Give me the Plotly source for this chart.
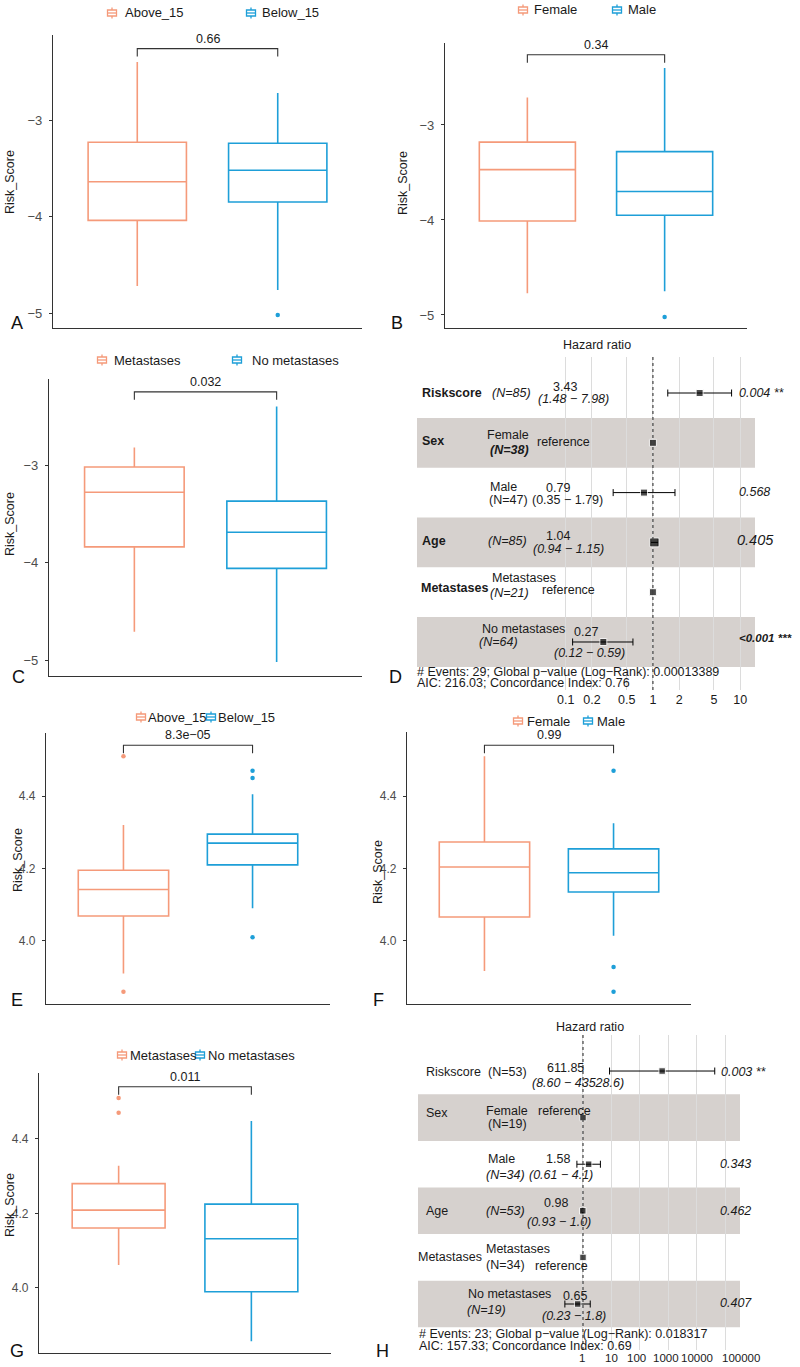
import math
import plotly.graph_objects as go

W, H = 800, 1367
FONT = "Liberation Sans, Arial, Helvetica, sans-serif"
ORANGE = "#F59A7A"
BLUE = "#1E9FD8"
INK = "#1A1A1A"
AXIS = "#333333"
BAND = "#D6D1CE"
GRID = "#DCDCDC"

# ---------------- data: box panels ----------------
A_groups = ["Above_15", "Below_15"]
A_q1 = [-4.04, -3.85]
A_median = [-3.64, -3.52]
A_q3 = [-3.23, -3.24]
A_lower = [-4.72, -4.76]
A_upper = [-2.40, -2.72]
A_outliers = [[], [-5.02]]
A_p = "0.66"
A_bracket = -2.26

B_groups = ["Female", "Male"]
B_q1 = [-4.01, -3.95]
B_median = [-3.47, -3.70]
B_q3 = [-3.18, -3.28]
B_lower = [-4.77, -4.75]
B_upper = [-2.71, -2.40]
B_outliers = [[], [-5.02]]
B_p = "0.34"
B_bracket = -2.26

C_groups = ["Metastases", "No metastases"]
C_q1 = [-3.84, -4.06]
C_median = [-3.28, -3.69]
C_q3 = [-3.02, -3.37]
C_lower = [-4.71, -5.02]
C_upper = [-2.82, -2.40]
C_outliers = [[], []]
C_p = "0.032"
C_bracket = -2.25

E_groups = ["Above_15", "Below_15"]
E_q1 = [4.069, 4.210]
E_median = [4.142, 4.270]
E_q3 = [4.195, 4.295]
E_lower = [3.910, 4.090]
E_upper = [4.320, 4.405]
E_outliers = [[4.51, 3.86], [4.47, 4.45, 4.01]]
E_p = "8.3e\u221205"
E_bracket = 4.54

F_groups = ["Female", "Male"]
F_q1 = [4.066, 4.135]
F_median = [4.204, 4.188]
F_q3 = [4.273, 4.254]
F_lower = [3.917, 4.014]
F_upper = [4.510, 4.325]
F_outliers = [[], [4.47, 3.928, 3.86]]
F_p = "0.99"
F_bracket = 4.54

G_groups = ["Metastases", "No metastases"]
G_q1 = [4.161, 3.990]
G_median = [4.209, 4.132]
G_q3 = [4.280, 4.225]
G_lower = [4.062, 3.857]
G_upper = [4.328, 4.448]
G_outliers = [[4.51, 4.47], []]
G_p = "0.011"
G_bracket = 4.54

# ---------------- data: forest panels ----------------
D_var = ["Riskscore", "Sex", "", "Age", "Metastases", ""]
D_level = ["", "Female", "Male", "", "Metastases", "No metastases"]
D_n = ["(N=85)", "(N=38)", "(N=47)", "(N=85)", "(N=21)", "(N=64)"]
D_hr = [3.43, 1.0, 0.79, 1.04, 1.0, 0.27]
D_lo = [1.48, None, 0.35, 0.94, None, 0.12]
D_hi = [7.98, None, 1.79, 1.15, None, 0.59]
D_est = ["3.43", "reference", "0.79", "1.04", "reference", "0.27"]
D_ci = ["(1.48 \u2212 7.98)", "", "(0.35 \u2212 1.79)", "(0.94 \u2212 1.15)", "", "(0.12 \u2212 0.59)"]
D_pval = ["0.004 **", "", "0.568", "0.405", "", "&lt;0.001 ***"]
D_footer = ["# Events: 29; Global p\u2212value (Log\u2212Rank): 0.00013389",
            "AIC: 216.03; Concordance Index: 0.76"]
D_ticks = [0.1, 0.2, 0.5, 1, 2, 5, 10]
D_ticktext = ["0.1", "0.2", "0.5", "1", "2", "5", "10"]

H_var = ["Riskscore", "Sex", "", "Age", "Metastases", ""]
H_level = ["", "Female", "Male", "", "Metastases", "No metastases"]
H_n = ["(N=53)", "(N=19)", "(N=34)", "(N=53)", "(N=34)", "(N=19)"]
H_hr = [611.85, 1.0, 1.58, 0.98, 1.0, 0.65]
H_lo = [8.60, None, 0.61, 0.93, None, 0.23]
H_hi = [43528.6, None, 4.1, 1.0, None, 1.8]
H_est = ["611.85", "reference", "1.58", "0.98", "reference", "0.65"]
H_ci = ["(8.60 \u2212 43528.6)", "", "(0.61 \u2212 4.1)", "(0.93 \u2212 1.0)", "", "(0.23 \u2212 1.8)"]
H_pval = ["0.003 **", "", "0.343", "0.462", "", "0.407"]
H_footer = ["# Events: 23; Global p\u2212value (Log\u2212Rank): 0.018317",
            "AIC: 157.33; Concordance Index: 0.69"]
H_ticks = [1, 10, 100, 1000, 10000, 100000]
H_ticktext = ["1", "10", "100", "1000", "10000", "100000"]


# ---------------- helpers ----------------
def fx(p):
    return p / W


def fy(p):
    return 1 - p / H


fig = go.Figure()
annotations = []
shapes = []
layout_axes = {}


def txt(s, x, y, size=12.5, anchor="center", color=INK, angle=0):
    annotations.append(dict(text=s, x=fx(x), y=fy(y), xref="paper", yref="paper",
                            xanchor=anchor, yanchor="middle", showarrow=False,
                            textangle=angle,
                            font=dict(family=FONT, size=size, color=color)))


def sty(s, st):
    if "b" in st:
        s = "<b>" + s + "</b>"
    if "i" in st:
        s = "<i>" + s + "</i>"
    return s


def axname(n):
    return ("x" if n == 1 else "x%d" % n), ("y" if n == 1 else "y%d" % n)


# ---------------- box panels ----------------
box_panels = [
    dict(n=1, g=A_groups, q1=A_q1, med=A_median, q3=A_q3, lo=A_lower, hi=A_upper, out=A_outliers,
         p=A_p, br=A_bracket, xd=(53, 362), yd=(35, 328), yr=(-5.155, -2.119), tv=[-5, -4, -3],
         fmt="d", tfs=13, title=(10, 182), leg_y=13, leg=[(112, 123), (251, 260)],
         letter=("A", 17, 323)),
    dict(n=2, g=B_groups, q1=B_q1, med=B_median, q3=B_q3, lo=B_lower, hi=B_upper, out=B_outliers,
         p=B_p, br=B_bracket, xd=(445, 747), yd=(43, 328), yr=(-5.137, -2.137), tv=[-5, -4, -3],
         fmt="d", tfs=13, title=(403, 183), leg_y=10, leg=[(523, 532), (617, 626)],
         letter=("B", 397, 323)),
    dict(n=3, g=C_groups, q1=C_q1, med=C_median, q3=C_q3, lo=C_lower, hi=C_upper, out=C_outliers,
         p=C_p, br=C_bracket, xd=(49, 362), yd=(379, 676), yr=(-5.164, -2.118), tv=[-5, -4, -3],
         fmt="d", tfs=13, title=(10, 524), leg_y=360, leg=[(102, 112), (237, 250)],
         letter=("C", 18, 677)),
    dict(n=5, g=E_groups, q1=E_q1, med=E_median, q3=E_q3, lo=E_lower, hi=E_upper, out=E_outliers,
         p=E_p, br=E_bracket, xd=(46, 330), yd=(733, 1004), yr=(3.826, 4.574), tv=[4.0, 4.2, 4.4],
         fmt=".1f", tfs=12, title=(18, 860), leg_y=717, leg=[(141, 146), (211, 216)],
         letter=("E", 17, 1000)),
    dict(n=6, g=F_groups, q1=F_q1, med=F_median, q3=F_q3, lo=F_lower, hi=F_upper, out=F_outliers,
         p=F_p, br=F_bracket, xd=(407, 691), yd=(732, 1004), yr=(3.826, 4.5766), tv=[4.0, 4.2, 4.4],
         fmt=".1f", tfs=12, title=(378, 872), leg_y=721, leg=[(518, 525), (588, 595)],
         letter=("F", 378, 1000)),
    dict(n=7, g=G_groups, q1=G_q1, med=G_median, q3=G_q3, lo=G_lower, hi=G_upper, out=G_outliers,
         p=G_p, br=G_bracket, xd=(39, 331), yd=(1073, 1353), yr=(3.8255, 4.577), tv=[4.0, 4.2, 4.4],
         fmt=".1f", tfs=12, title=(10, 1205), leg_y=1055, leg=[(122, 128), (200, 206)],
         letter=("G", 17, 1351)),
]

COLORS = [ORANGE, BLUE]

for P in box_panels:
    xa, ya = axname(P["n"])
    for i in range(2):
        c = COLORS[i]
        fig.add_trace(go.Box(
            x=[i + 1], q1=[P["q1"][i]], median=[P["med"][i]], q3=[P["q3"][i]],
            lowerfence=[P["lo"][i]], upperfence=[P["hi"][i]], width=0.7, whiskerwidth=0,
            line=dict(color=c, width=1.6), fillcolor="rgba(255,255,255,0)",
            boxpoints=False, name=P["g"][i], showlegend=False, hoverinfo="skip",
            xaxis=xa, yaxis=ya))
        if P["out"][i]:
            fig.add_trace(go.Scatter(
                x=[i + 1] * len(P["out"][i]), y=P["out"][i], mode="markers",
                marker=dict(size=4.5, color=c), showlegend=False, hoverinfo="skip",
                xaxis=xa, yaxis=ya))
    # bracket for comparison
    span = (P["yr"][1] - P["yr"][0]) / (P["yd"][1] - P["yd"][0])
    tip = 8 * span
    fig.add_trace(go.Scatter(
        x=[1, 1, 2, 2], y=[P["br"] - tip, P["br"], P["br"], P["br"] - tip], mode="lines",
        line=dict(color=AXIS, width=1.1), showlegend=False, hoverinfo="skip",
        xaxis=xa, yaxis=ya))
    annotations.append(dict(text=P["p"], x=1.5, y=P["br"], xref=xa, yref=ya, yshift=10,
                            showarrow=False, yanchor="middle",
                            font=dict(family=FONT, size=12.5, color=INK)))
    k = "" if P["n"] == 1 else str(P["n"])
    layout_axes["xaxis" + k] = dict(
        domain=[fx(P["xd"][0]), fx(P["xd"][1])], range=[0.4, 2.6], anchor=ya,
        showline=True, linecolor=AXIS, linewidth=1.1, showticklabels=False, ticks="",
        showgrid=False, zeroline=False, fixedrange=True)
    layout_axes["yaxis" + k] = dict(
        domain=[fy(P["yd"][1]), fy(P["yd"][0])], range=list(P["yr"]), anchor=xa,
        tickvals=P["tv"], tickformat=P["fmt"], ticks="outside", ticklen=3, tickwidth=1,
        tickcolor=AXIS, showline=True, linecolor=AXIS, linewidth=1.1, showgrid=False,
        zeroline=False, ticklabelstandoff=4,
        tickfont=dict(family=FONT, size=P["tfs"], color="#4D4D4D"), fixedrange=True)
    # axis title
    txt("Risk_Score", P["title"][0], P["title"][1], size=12.5, angle=-90)
    # panel letter
    txt(P["letter"][0], P["letter"][1], P["letter"][2], size=18, color="#111111")
    # legend (ggplot style keys)
    cy = P["leg_y"]
    for i, (ix, tx) in enumerate(P["leg"]):
        c = COLORS[i]
        shapes.append(dict(type="rect", xref="paper", yref="paper",
                           x0=fx(ix - 4.5), x1=fx(ix + 4.5), y0=fy(cy + 3), y1=fy(cy - 3),
                           line=dict(color=c, width=1.3), fillcolor="white"))
        shapes.append(dict(type="line", xref="paper", yref="paper",
                           x0=fx(ix - 4.5), x1=fx(ix + 4.5), y0=fy(cy), y1=fy(cy),
                           line=dict(color=c, width=1.3)))
        shapes.append(dict(type="line", xref="paper", yref="paper",
                           x0=fx(ix), x1=fx(ix), y0=fy(cy - 3), y1=fy(cy - 5.5),
                           line=dict(color=c, width=1.3)))
        shapes.append(dict(type="line", xref="paper", yref="paper",
                           x0=fx(ix), x1=fx(ix), y0=fy(cy + 3), y1=fy(cy + 5.5),
                           line=dict(color=c, width=1.3)))
        txt(P["g"][i], tx, cy, size=13, anchor="left")

# ---------------- forest panels ----------------
D_pos = dict(
    var=[(420, 393), (420, 441), None, (420, 541), (419, 588), None],
    level=[None, (508, 435), (503, 487), None, (524, 578), (523, 629)],
    n=[(511, 393), (509, 450), (508, 500), (507, 541), (510, 593), (498, 642)],
    est=[(565, 387), (563, 442), (558, 488), (558, 536), (568, 590), (586, 632)],
    ci=[(573, 399), None, (567, 500), (568, 549), None, (589, 653)],
    p=[(737, 393), None, (737, 492), (735, 540), None, (737, 638)],
)
D_sty = dict(var=["b"] * 6, level=[""] * 6, n=["i", "bi", "", "i", "i", "i"],
             est=[""] * 6, ci=["i", "", "", "i", "", "i"], p=["i", "", "i", "i", "", "bi"])
D_psize = [12.5, 12.5, 12.5, 14.5, 12.5, 11.5]
D_msize = [7, 7, 7, 9, 7, 7]

H_pos = dict(
    var=[(424, 1072), (424, 1113), None, (424, 1211), (416, 1257), None],
    level=[None, (507, 1111), (501, 1159), None, (518, 1249), (509, 1294)],
    n=[(507, 1072), (507, 1124), (505, 1175), (505, 1211), (505, 1265), (486, 1310)],
    est=[(565, 1068), (564, 1111), (558, 1159), (556, 1203), (561, 1266), (575, 1296)],
    ci=[(578, 1083), None, (561, 1175), (559, 1222), None, (574, 1316)],
    p=[(719, 1072), None, (718, 1164), (718, 1211), None, (718, 1303)],
)
H_sty = dict(var=[""] * 6, level=[""] * 6, n=["", "", "i", "i", "", "i"],
             est=[""] * 6, ci=["i", "", "i", "i", "", "i"], p=["i", "", "i", "i", "", "i"])
H_psize = [12.5] * 6
H_msize = [6.5] * 6
H_tickshift = [-1, 0, -3, -2, 0, 16]

forest_panels = [
    dict(n=4, var=D_var, level=D_level, N=D_n, hr=D_hr, lo=D_lo, hi=D_hi, est=D_est, ci=D_ci,
         pv=D_pval, footer=D_footer, ticks=D_ticks, ticktext=D_ticktext, pos=D_pos, st=D_sty,
         psize=D_psize, msize=D_msize, xd=(415, 797), yd=(357, 690), xr=(-2.728, 1.652),
         yr=(5.964, -0.723), band=(417, 755), title=(597, 345), foot=(415, 672, 683),
         letter=("D", 395, 677), tickshift=None, tick_y=697),
    dict(n=8, var=H_var, level=H_level, N=H_n, hr=H_hr, lo=H_lo, hi=H_hi, est=H_est, ci=H_ci,
         pv=H_pval, footer=H_footer, ticks=H_ticks, ticktext=H_ticktext, pos=H_pos, st=H_sty,
         psize=H_psize, msize=H_msize, xd=(415, 797), yd=(1035, 1350), xr=(-5.915, 7.535),
         yr=(5.987, -0.773), band=(418, 740), title=(590, 1027), foot=(417, 1334, 1346),
         letter=("H", 382, 1351), tickshift=H_tickshift, tick_y=1358),
]

for P in forest_panels:
    xa, ya = axname(P["n"])
    k = str(P["n"])
    rows = list(range(len(P["hr"])))
    # shaded bands for alternate rows
    for r in rows:
        if r % 2 == 1:
            shapes.append(dict(type="rect", xref="paper", yref=ya, x0=fx(P["band"][0]),
                               x1=fx(P["band"][1]), y0=r - 0.5, y1=r + 0.5, fillcolor=BAND,
                               line=dict(width=0), layer="below"))
    # reference line at HR = 1
    shapes.append(dict(type="line", xref=xa, yref=ya + " domain", x0=1, x1=1, y0=0, y1=1,
                       line=dict(color="#444444", width=1.2, dash="dot"), layer="above"))
    est_r = [r for r in rows if P["lo"][r] is not None]
    ref_r = [r for r in rows if P["lo"][r] is None]
    fig.add_trace(go.Scatter(
        x=[P["hr"][r] for r in est_r], y=est_r, mode="markers",
        marker=dict(symbol="square", size=[P["msize"][r] for r in est_r], color="black"),
        error_x=dict(type="data", symmetric=False,
                     array=[P["hi"][r] - P["hr"][r] for r in est_r],
                     arrayminus=[P["hr"][r] - P["lo"][r] for r in est_r],
                     color="black", thickness=1, width=3.5),
        showlegend=False, hoverinfo="skip", xaxis=xa, yaxis=ya))
    fig.add_trace(go.Scatter(
        x=[P["hr"][r] for r in ref_r], y=ref_r, mode="markers",
        marker=dict(symbol="square", size=[P["msize"][r] for r in ref_r], color="black"),
        showlegend=False, hoverinfo="skip", xaxis=xa, yaxis=ya))
    if P["tickshift"]:
        # crowded tick labels drawn individually (as in the original figure)
        for v, lab, sh in zip(P["ticks"], P["ticktext"], P["tickshift"]):
            annotations.append(dict(text=lab, x=math.log10(v), y=fy(P["tick_y"]), xref=xa,
                                    yref="paper", xshift=sh, showarrow=False, yanchor="middle",
                                    font=dict(family=FONT, size=11.5, color=INK)))
        show_tl = False
    else:
        show_tl = True
    layout_axes["xaxis" + k] = dict(
        domain=[fx(P["xd"][0]), fx(P["xd"][1])], type="log", range=list(P["xr"]), anchor=ya,
        tickvals=P["ticks"], ticktext=P["ticktext"], showticklabels=show_tl, tickangle=0,
        showgrid=True, gridcolor=GRID, gridwidth=1,
        showline=False, zeroline=False, ticks="", fixedrange=True,
        tickfont=dict(family=FONT, size=12.5, color=INK))
    layout_axes["yaxis" + k] = dict(
        domain=[fy(P["yd"][1]), fy(P["yd"][0])], range=list(P["yr"]), anchor=xa,
        showticklabels=False, showgrid=False, zeroline=False, showline=False, ticks="",
        fixedrange=True)
    # text columns
    for col, src in (("var", P["var"]), ("level", P["level"]), ("n", P["N"]),
                     ("est", P["est"]), ("ci", P["ci"]), ("p", P["pv"])):
        for r in rows:
            pos = P["pos"][col][r]
            if pos is None or not src[r]:
                continue
            anchor = "left" if col in ("var", "p") else "center"
            size = P["psize"][r] if col == "p" else 12.5
            txt(sty(src[r], P["st"][col][r]), pos[0], pos[1], size=size, anchor=anchor)
    txt("Hazard ratio", P["title"][0], P["title"][1], size=12.5)
    txt(P["footer"][0], P["foot"][0], P["foot"][1], size=12.5, anchor="left")
    txt(P["footer"][1], P["foot"][0], P["foot"][2], size=12.5, anchor="left")
    txt(P["letter"][0], P["letter"][1], P["letter"][2], size=18, color="#111111")

fig.update_layout(
    width=W, height=H, autosize=False, margin=dict(l=0, r=0, t=0, b=0),
    paper_bgcolor="white", plot_bgcolor="white", showlegend=False, boxmode="overlay",
    font=dict(family=FONT, size=12, color=INK),
    annotations=annotations, shapes=shapes, **layout_axes)

fig.write_html("out.html", config={"displayModeBar": False, "staticPlot": True},
               post_script="document.body.style.margin='0px';"
                           "document.body.style.overflow='hidden';")
